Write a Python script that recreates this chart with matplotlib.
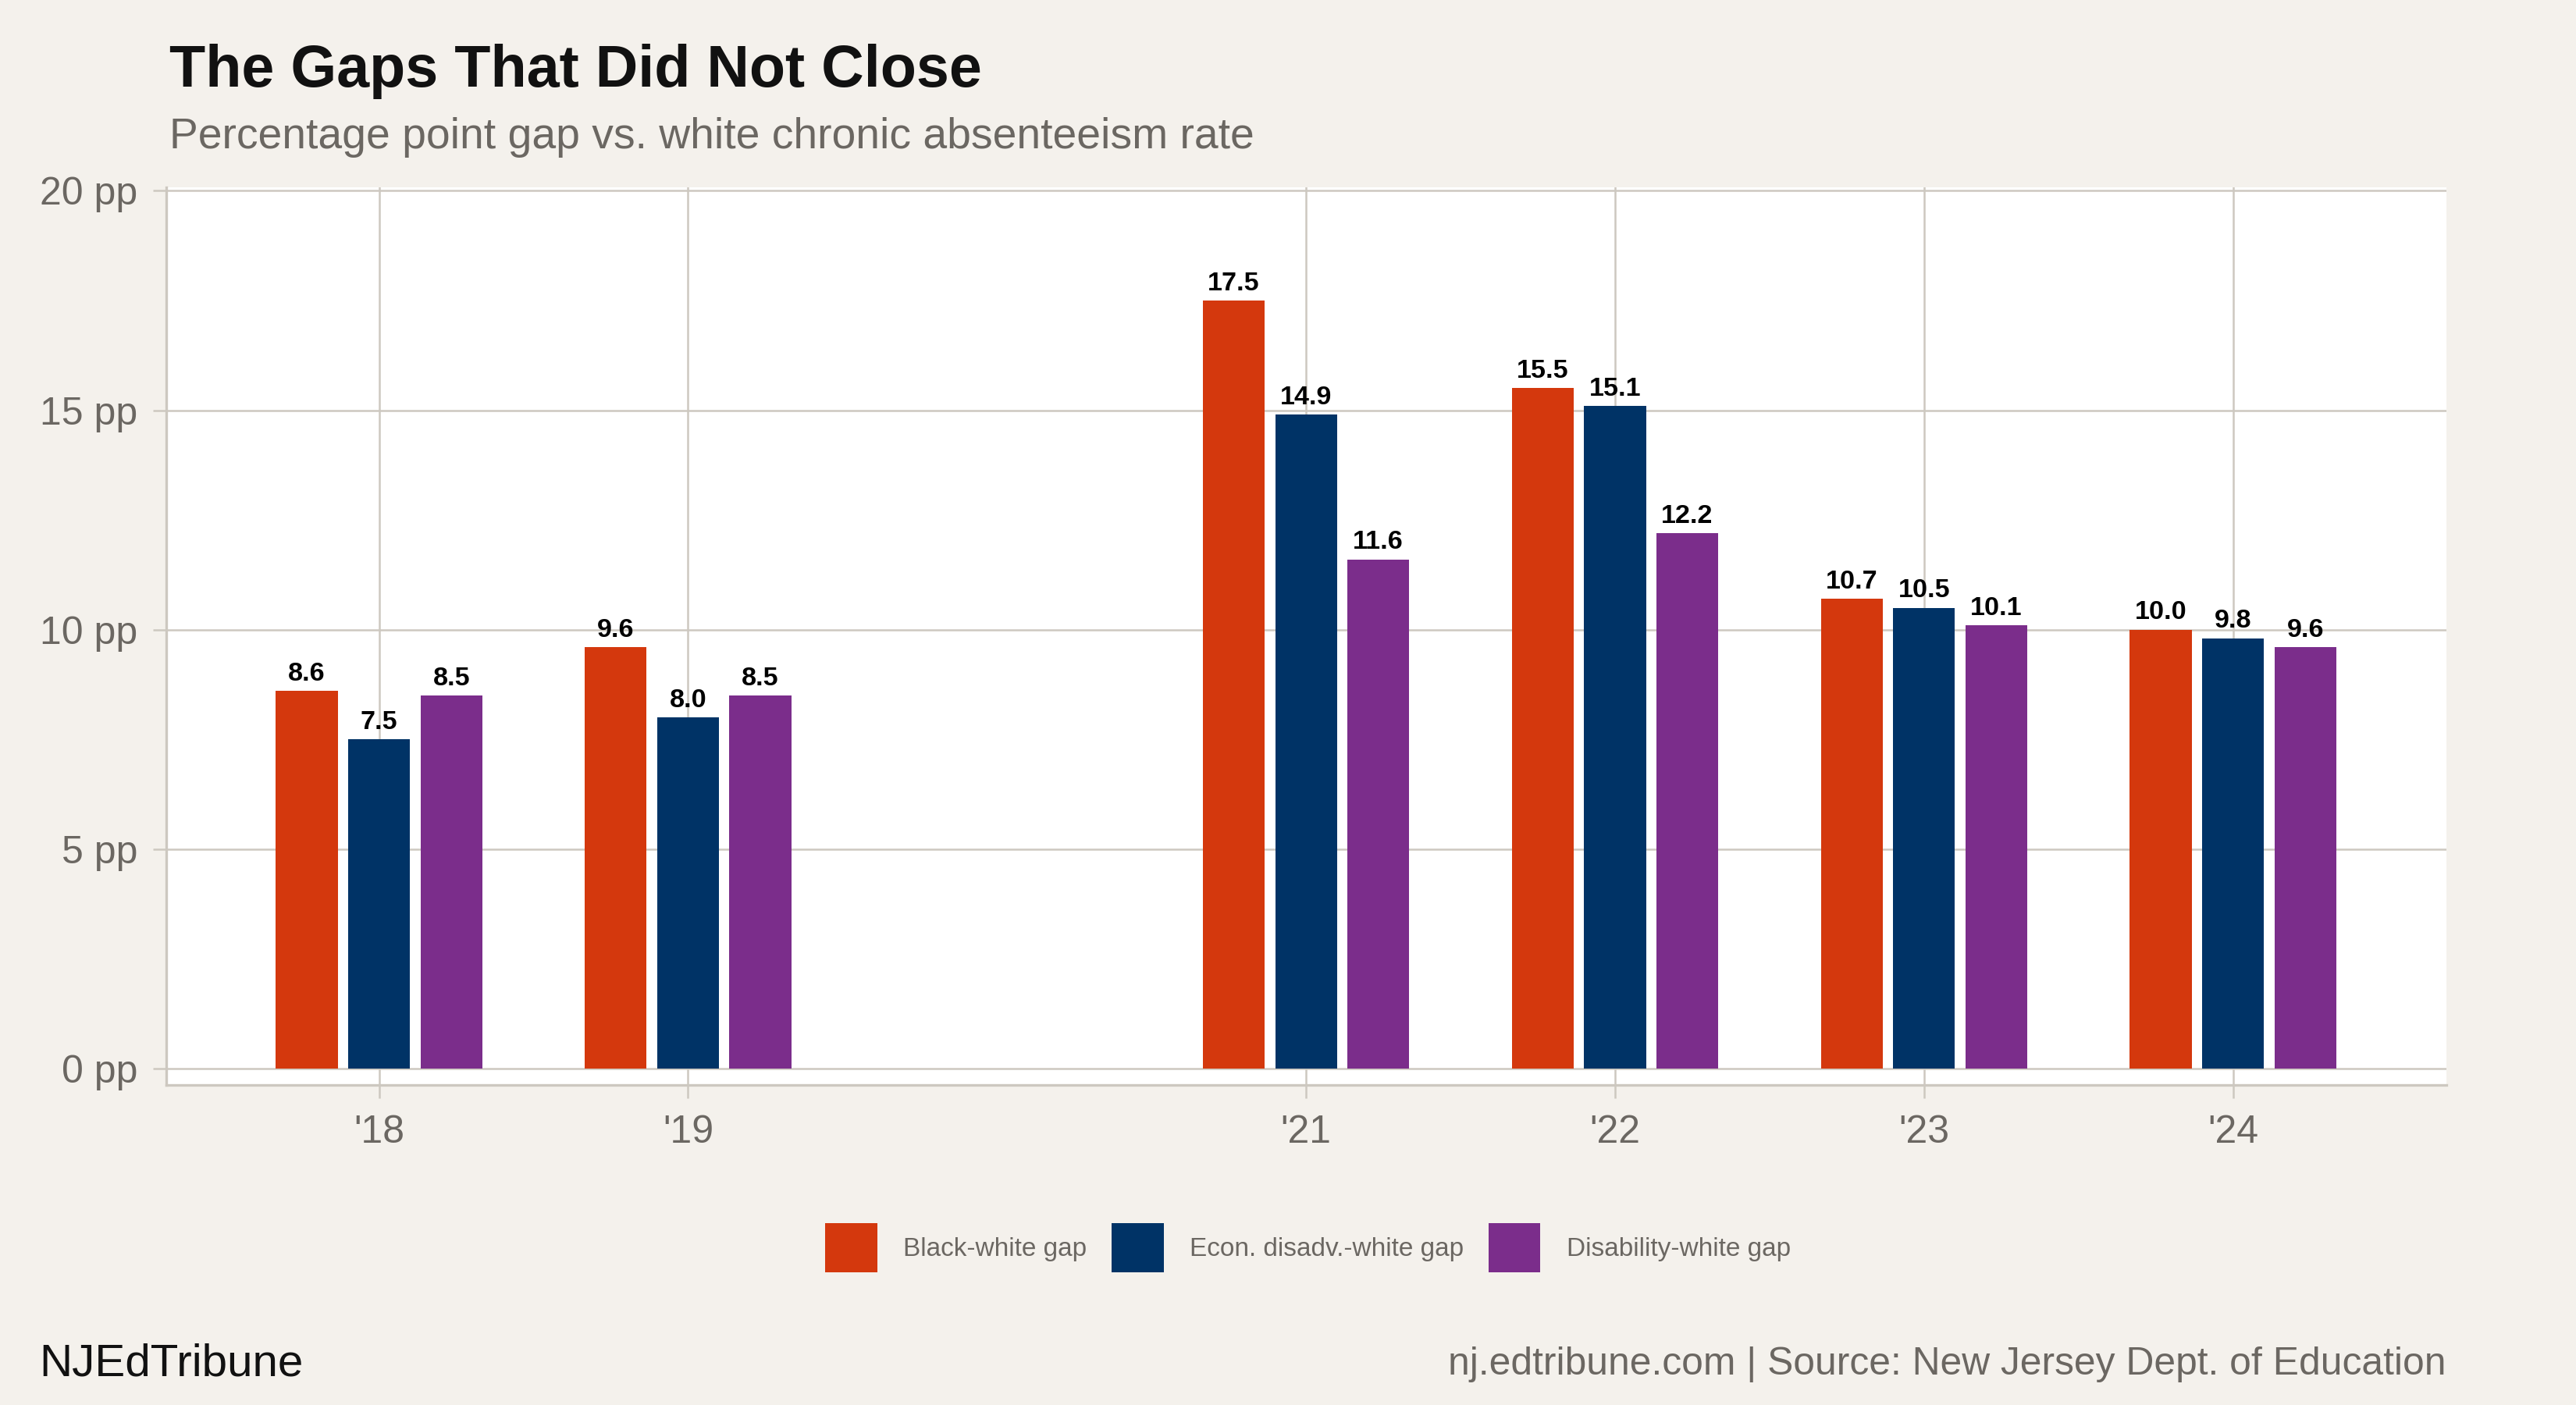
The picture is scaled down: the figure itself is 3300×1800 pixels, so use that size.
import matplotlib
matplotlib.use("Agg")
import matplotlib.pyplot as plt
from matplotlib.patches import Patch
import numpy as np

years = [2018, 2019, 2021, 2022, 2023, 2024]
year_labels = ["'18", "'19", "'21", "'22", "'23", "'24"]
black_gap = [8.6, 9.6, 17.5, 15.5, 10.7, 10.0]
econ_gap = [7.5, 8.0, 14.9, 15.1, 10.5, 9.8]
disab_gap = [8.5, 8.5, 11.6, 12.2, 10.1, 9.6]
series_names = ["Black-white gap", "Econ. disadv.-white gap", "Disability-white gap"]
series_colors = ["#d4380d", "#003366", "#7b2d8b"]
y_ticks = [0, 5, 10, 15, 20]

plt.rcParams['font.family'] = ['Liberation Sans', 'DejaVu Sans']

BG = "#f4f1ec"
GRID = "#cdc8c0"
GRAYTXT = "#6b6762"

fig = plt.figure(figsize=(16.5, 9), dpi=200, facecolor=BG)
ax = fig.add_axes([0.0644, 0.228, 0.9496 - 0.0644, 0.8667 - 0.228])
ax.set_facecolor("white")

x = np.array(years, dtype=float)
width = 0.2
offsets = [-0.234, 0.0, 0.234]
all_series = [black_gap, econ_gap, disab_gap]
for vals, off, col, name in zip(all_series, offsets, series_colors, series_names):
    bars = ax.bar(x + off, vals, width=width, color=col, label=name, zorder=3)
    for b, v in zip(bars, vals):
        ax.annotate(f"{v:.1f}", (b.get_x() + b.get_width() / 2, v),
                    xytext=(0, 2.3), textcoords="offset points",
                    ha="center", va="bottom", fontsize=12.3,
                    fontweight="bold", color="black", zorder=4)

ax.set_xlim(2017.31, 2024.69)
ax.set_ylim(-0.37, 20.08)
ax.set_xticks(years)
ax.set_xticklabels(year_labels)
ax.set_yticks(y_ticks)
ax.set_yticklabels([f"{t} pp" for t in y_ticks])
ax.grid(True, color=GRID, linewidth=0.9, zorder=0)
ax.set_axisbelow(True)
for s in ["top", "right"]:
    ax.spines[s].set_visible(False)
for s in ["left", "bottom"]:
    ax.spines[s].set_color(GRID)
    ax.spines[s].set_linewidth(1.2)
ax.tick_params(axis="both", colors=GRID, labelcolor=GRAYTXT, labelsize=18,
               length=6, width=0.9)
ax.tick_params(axis="x", pad=8)
ax.tick_params(axis="y", pad=7)

handles = [Patch(facecolor=c, edgecolor="none") for c in series_colors]
fig.legend(handles, series_names, loc="center", bbox_to_anchor=(0.5077, 0.112),
           ncol=3, frameon=False, fontsize=12, labelcolor=GRAYTXT,
           handlelength=2.0, handleheight=2.5, handletextpad=1.0,
           columnspacing=0.95)

fig.text(0.0657, 0.949, "The Gaps That Did Not Close", fontsize=27.2,
         fontweight="bold", color="#111111", ha="left", va="center")
fig.text(0.0657, 0.902, "Percentage point gap vs. white chronic absenteeism rate",
         fontsize=19.9, color=GRAYTXT, ha="left", va="center")
fig.text(0.0153, 0.029, "NJEdTribune", fontsize=21, color="#111111",
         ha="left", va="center")
fig.text(0.9496, 0.029, "nj.edtribune.com | Source: New Jersey Dept. of Education",
         fontsize=17.9, color=GRAYTXT, ha="right", va="center")

fig.savefig("out.png", dpi=200, facecolor=BG)
